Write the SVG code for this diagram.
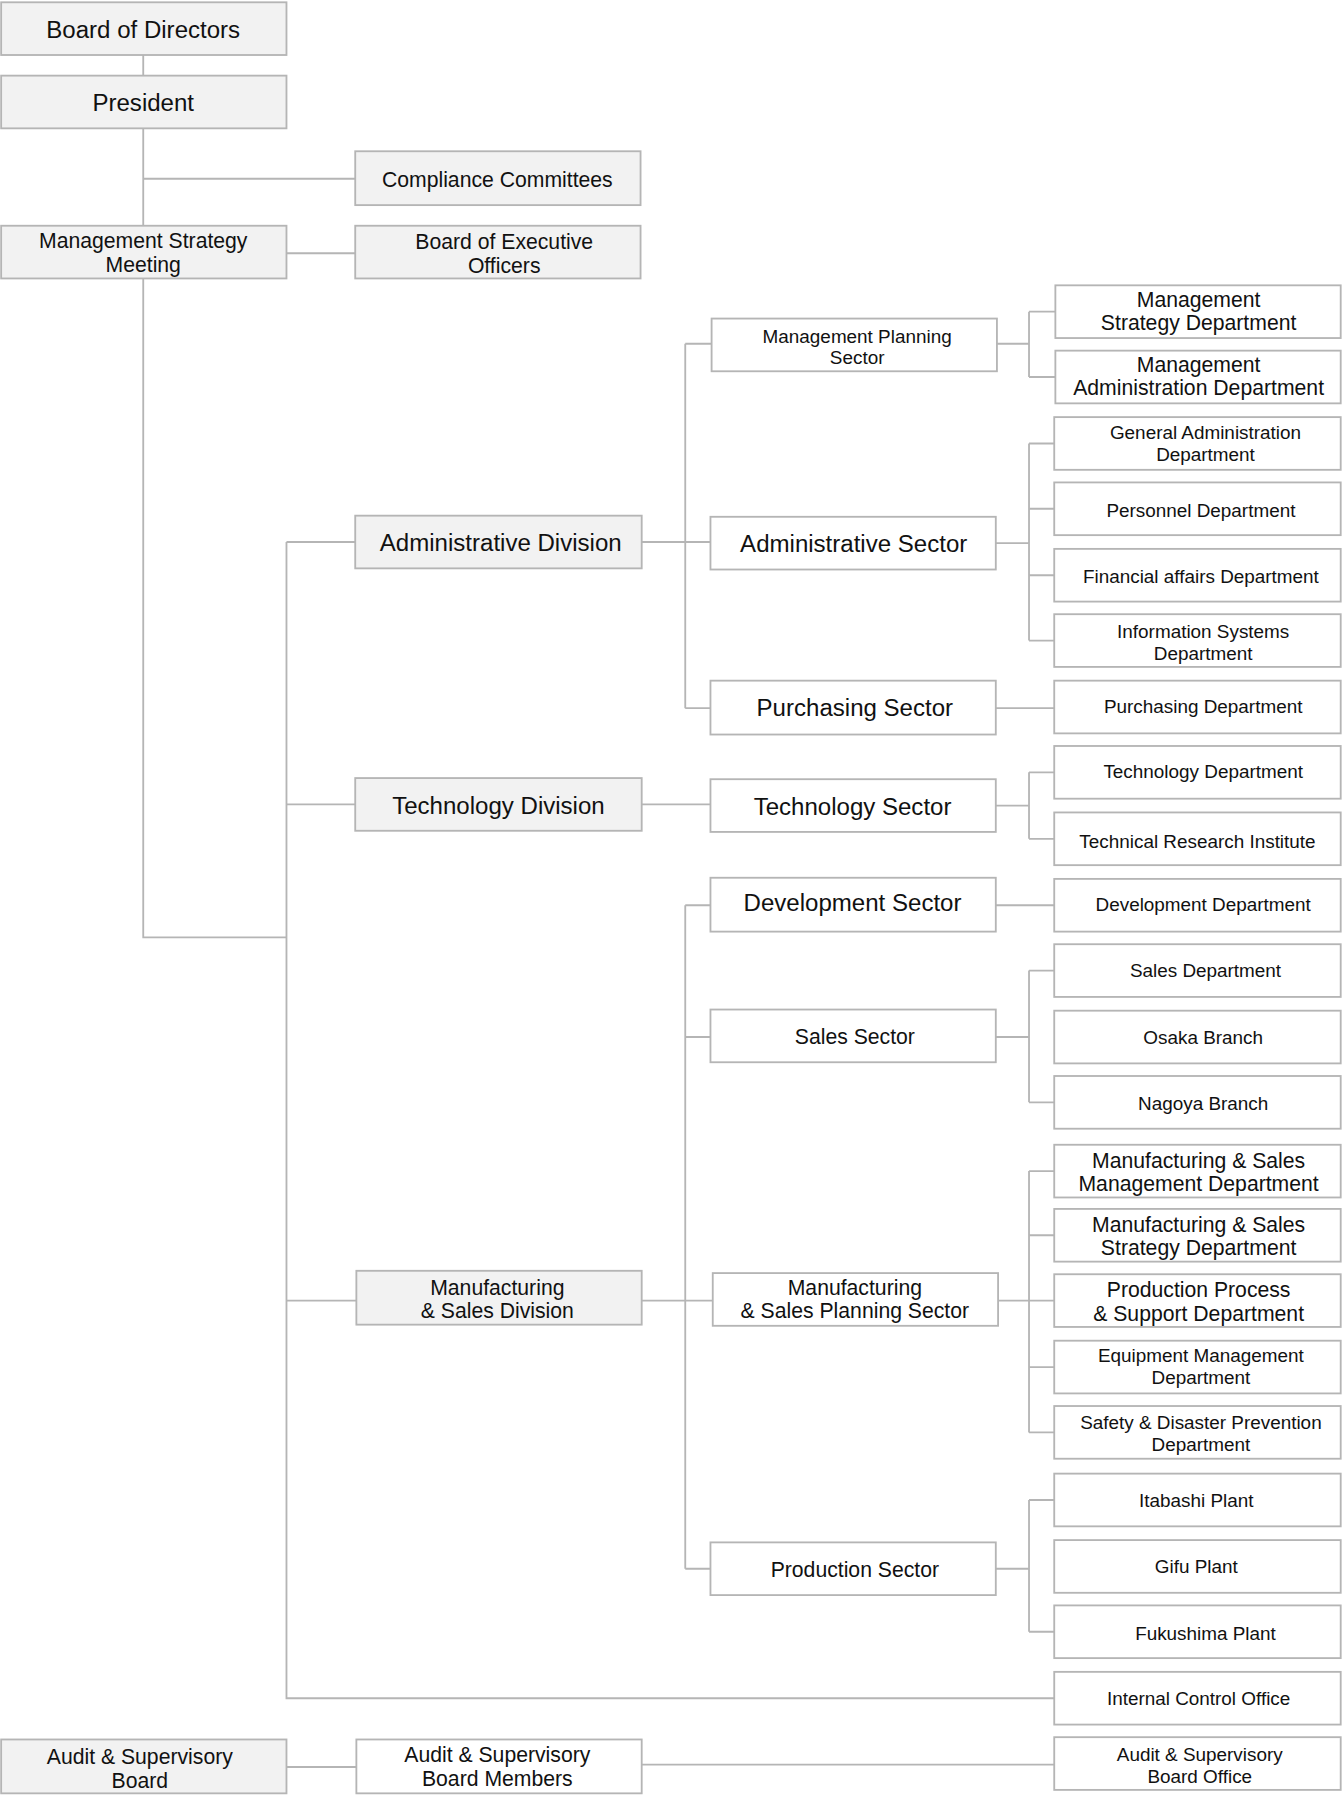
<svg xmlns="http://www.w3.org/2000/svg" width="1343" height="1797" viewBox="0 0 1343 1797">
<style>
rect{stroke:#b5b5b5;stroke-width:1.6}
.g{fill:#f2f2f2}.w{fill:#fff}
text{font-family:"Liberation Sans",Arial,sans-serif;fill:#111;text-anchor:middle}
.l{font-size:21px}.m{font-size:18.5px}.s{font-size:16.5px}
#conn path{stroke:#b5b5b5;stroke-width:1.6;fill:none}
</style>
<rect width="1343" height="1797" fill="#fff" style="stroke:none"/>
<g transform="scale(1.1459)">
<g id="conn">
<path d="M125 48V66M125 112V197M125 156H310M250 221H310M125 243V818H250M250 473V1482H920M250 473H310M250 702H310M250 1135H311"/>
<path d="M560 473H620M598 300V618M598 300H621M598 618H620M870 300H898M898 272V329M898 272H921M898 329H921"/>
<path d="M869 474H898M898 387V559M898 387H920M898 444H920M898 502H920M898 559H920M869 618H920"/>
<path d="M560 702H620M869 703H898M898 674V732M898 674H920M898 732H920"/>
<path d="M560 1135H622M598 790V1369M598 790H620M598 905H620M598 1369H620M869 790H920M869 905H898M898 847V962M898 847H920M898 962H920"/>
<path d="M871 1135H920M898 1022V1250M898 1022H920M898 1078H920M898 1193H920M898 1250H920M869 1369H898M898 1309V1424M898 1309H920M898 1424H920"/>
<path d="M250 1542H311M560 1540H920"/>
</g>
<g id="board"><rect class="g" x="1" y="2" width="249" height="46"/><text class="l" x="125" y="33">Board of Directors</text></g>
<g id="president"><rect class="g" x="1" y="66" width="249" height="46"/><text class="l" x="125" y="97">President</text></g>
<g id="compliance"><rect class="g" x="310" y="132" width="249" height="47"/><text class="m" x="434" y="163">Compliance Committees</text></g>
<g id="msm"><rect class="g" x="1" y="197" width="249" height="46"/><text class="m" x="125" y="216">Management Strategy</text><text class="m" x="125" y="237">Meeting</text></g>
<g id="boeo"><rect class="g" x="310" y="197" width="249" height="46"/><text class="m" x="440" y="217">Board of Executive</text><text class="m" x="440" y="238">Officers</text></g>
<g id="admdiv"><rect class="g" x="310" y="450" width="250" height="46"/><text class="l" x="437" y="481">Administrative Division</text></g>
<g id="techdiv"><rect class="g" x="310" y="679" width="250" height="46"/><text class="l" x="435" y="710">Technology Division</text></g>
<g id="mfgdiv"><rect class="g" x="311" y="1109" width="249" height="47"/><text class="m" x="434" y="1130">Manufacturing</text><text class="m" x="434" y="1150">&amp; Sales Division</text></g>
<g id="auditboard"><rect class="g" x="1" y="1518" width="249" height="47"/><text class="m" x="122" y="1539">Audit &amp; Supervisory</text><text class="m" x="122" y="1560">Board</text></g>
<g id="auditmembers"><rect class="w" x="311" y="1518" width="249" height="47"/><text class="m" x="434" y="1538">Audit &amp; Supervisory</text><text class="m" x="434" y="1559">Board Members</text></g>
<g id="mps"><rect class="w" x="621" y="278" width="249" height="46"/><text class="s" x="748" y="299">Management Planning</text><text class="s" x="748" y="318">Sector</text></g>
<g id="adms"><rect class="w" x="620" y="451" width="249" height="46"/><text class="l" x="745" y="482">Administrative Sector</text></g>
<g id="purs"><rect class="w" x="620" y="594" width="249" height="47"/><text class="l" x="746" y="625">Purchasing Sector</text></g>
<g id="techs"><rect class="w" x="620" y="680" width="249" height="46"/><text class="l" x="744" y="711">Technology Sector</text></g>
<g id="devs"><rect class="w" x="620" y="766" width="249" height="47"/><text class="l" x="744" y="795">Development Sector</text></g>
<g id="sales"><rect class="w" x="620" y="881" width="249" height="46"/><text class="m" x="746" y="911">Sales Sector</text></g>
<g id="mfgps"><rect class="w" x="622" y="1111" width="249" height="46"/><text class="m" x="746" y="1130">Manufacturing</text><text class="m" x="746" y="1150">&amp; Sales Planning Sector</text></g>
<g id="prods"><rect class="w" x="620" y="1346" width="249" height="46"/><text class="m" x="746" y="1376">Production Sector</text></g>
<g id="d1"><rect class="w" x="921" y="249" width="249" height="46"/><text class="m" x="1046" y="268">Management</text><text class="m" x="1046" y="288">Strategy Department</text></g>
<g id="d2"><rect class="w" x="921" y="306" width="249" height="46"/><text class="m" x="1046" y="325">Management</text><text class="m" x="1046" y="345">Administration Department</text></g>
<g id="d3"><rect class="w" x="920" y="364" width="250" height="46"/><text class="s" x="1052" y="383">General Administration</text><text class="s" x="1052" y="402">Department</text></g>
<g id="d4"><rect class="w" x="920" y="421" width="250" height="46"/><text class="s" x="1048" y="451">Personnel Department</text></g>
<g id="d5"><rect class="w" x="920" y="479" width="250" height="46"/><text class="s" x="1048" y="509">Financial affairs Department</text></g>
<g id="d6"><rect class="w" x="920" y="536" width="250" height="46"/><text class="s" x="1050" y="557">Information Systems</text><text class="s" x="1050" y="576">Department</text></g>
<g id="d7"><rect class="w" x="920" y="594" width="250" height="46"/><text class="s" x="1050" y="622">Purchasing Department</text></g>
<g id="d8"><rect class="w" x="920" y="651" width="250" height="46"/><text class="s" x="1050" y="679">Technology Department</text></g>
<g id="d9"><rect class="w" x="920" y="709" width="250" height="46"/><text class="s" x="1045" y="740">Technical Research Institute</text></g>
<g id="d10"><rect class="w" x="920" y="767" width="250" height="46"/><text class="s" x="1050" y="795">Development Department</text></g>
<g id="d11"><rect class="w" x="920" y="824" width="250" height="46"/><text class="s" x="1052" y="853">Sales Department</text></g>
<g id="d12"><rect class="w" x="920" y="882" width="250" height="46"/><text class="s" x="1050" y="911">Osaka Branch</text></g>
<g id="d13"><rect class="w" x="920" y="939" width="250" height="46"/><text class="s" x="1050" y="969">Nagoya Branch</text></g>
<g id="d14"><rect class="w" x="920" y="999" width="250" height="46"/><text class="m" x="1046" y="1019">Manufacturing &amp; Sales</text><text class="m" x="1046" y="1039">Management Department</text></g>
<g id="d15"><rect class="w" x="920" y="1055" width="250" height="46"/><text class="m" x="1046" y="1075">Manufacturing &amp; Sales</text><text class="m" x="1046" y="1095">Strategy Department</text></g>
<g id="d16"><rect class="w" x="920" y="1112" width="250" height="46"/><text class="m" x="1046" y="1132">Production Process</text><text class="m" x="1046" y="1153">&amp; Support Department</text></g>
<g id="d17"><rect class="w" x="920" y="1170" width="250" height="46"/><text class="s" x="1048" y="1189">Equipment Management</text><text class="s" x="1048" y="1208">Department</text></g>
<g id="d18"><rect class="w" x="920" y="1227" width="250" height="46"/><text class="s" x="1048" y="1247">Safety &amp; Disaster Prevention</text><text class="s" x="1048" y="1266">Department</text></g>
<g id="d19"><rect class="w" x="920" y="1286" width="250" height="46"/><text class="s" x="1044" y="1315">Itabashi Plant</text></g>
<g id="d20"><rect class="w" x="920" y="1344" width="250" height="46"/><text class="s" x="1044" y="1373">Gifu Plant</text></g>
<g id="d21"><rect class="w" x="920" y="1401" width="250" height="46"/><text class="s" x="1052" y="1431">Fukushima Plant</text></g>
<g id="d22"><rect class="w" x="920" y="1459" width="250" height="46"/><text class="s" x="1046" y="1488">Internal Control Office</text></g>
<g id="d23"><rect class="w" x="920" y="1516" width="250" height="46"/><text class="s" x="1047" y="1537">Audit &amp; Supervisory</text><text class="s" x="1047" y="1556">Board Office</text></g>
</g>
</svg>
